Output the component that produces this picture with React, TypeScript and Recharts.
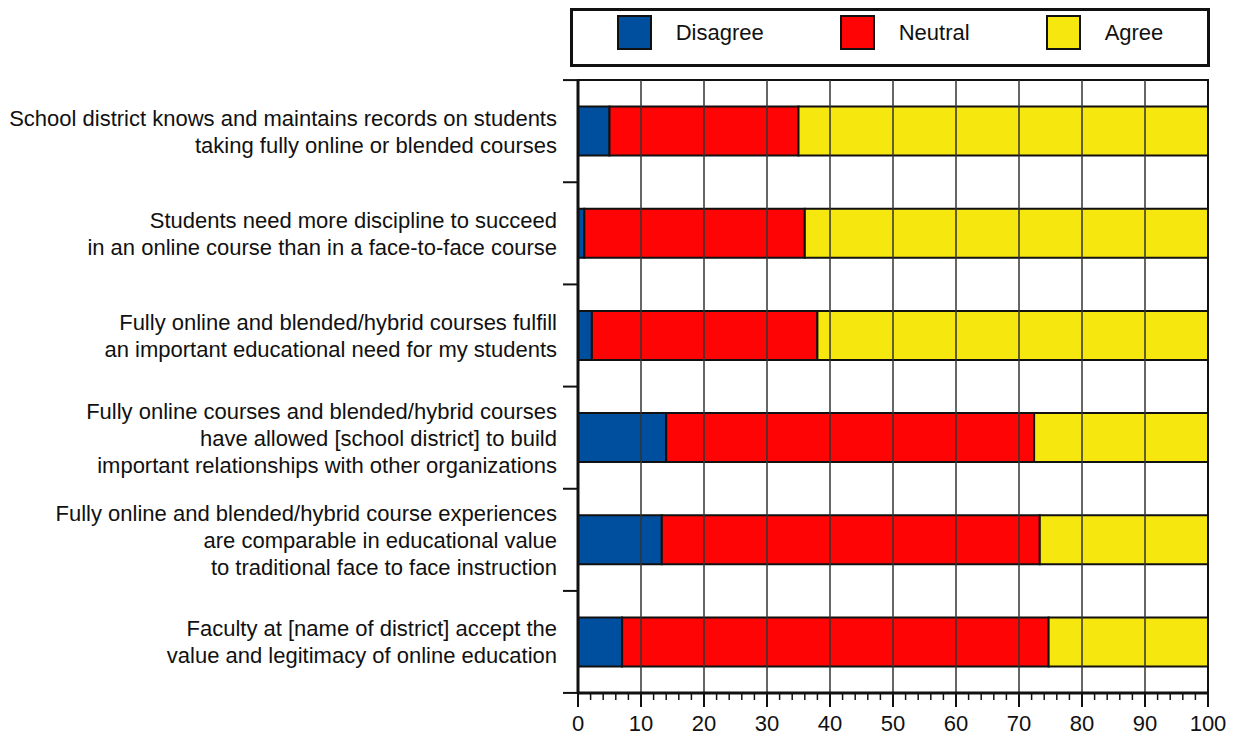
import { Bar, BarChart, ReferenceArea, ReferenceLine, XAxis, YAxis } from "recharts"

const statements = [
  "School district knows and maintains records on students\ntaking fully online or blended courses",
  "Students need more discipline to succeed\nin an online course than in a face-to-face course",
  "Fully online and blended/hybrid courses fulfill\nan important educational need for my students",
  "Fully online courses and blended/hybrid courses\nhave allowed [school district] to build\nimportant relationships with other organizations",
  "Fully online and blended/hybrid course experiences\nare comparable in educational value\nto traditional face to face instruction",
  "Faculty at [name of district] accept the\nvalue and legitimacy of online education",
]

const disagree = [5, 1, 2.2, 14, 13.3, 7]
const neutral = [30, 35, 35.8, 58.4, 60, 67.7]
const agree = [65, 64, 62, 27.6, 26.7, 25.3]

const gridTicks = [10, 20, 30, 40, 50, 60, 70, 80, 90]
const allTicks = [
  0, 2, 4, 6, 8, 10, 12, 14, 16, 18, 20, 22, 24, 26, 28, 30, 32, 34, 36, 38, 40, 42, 44, 46, 48, 50,
  52, 54, 56, 58, 60, 62, 64, 66, 68, 70, 72, 74, 76, 78, 80, 82, 84, 86, 88, 90, 92, 94, 96, 98, 100,
]

const series = [
  { key: "disagree", name: "Disagree", color: "#004f9f" },
  { key: "neutral", name: "Neutral", color: "#fe0404" },
  { key: "agree", name: "Agree", color: "#f6e70f" },
]

const data = statements.map((label, i) => ({
  label,
  disagree: disagree[i],
  neutral: neutral[i],
  agree: agree[i],
}))

const FONT = "'Liberation Sans', Arial, sans-serif"
const HALF_ROW = 51

const StatementTick = (props: any) => {
  const { x, y, payload, index } = props
  const lines = String(payload.value).split("\n")
  const lineH = 27
  const start = y - ((lines.length - 1) * lineH) / 2
  return (
    <g>
      <line x1={x - 15} x2={x} y1={y - HALF_ROW} y2={y - HALF_ROW} stroke="#111" strokeWidth={2} />
      {index === statements.length - 1 && (
        <line x1={x - 15} x2={x} y1={y + HALF_ROW} y2={y + HALF_ROW} stroke="#111" strokeWidth={2} />
      )}
      <text x={x - 21} y={start} textAnchor="end" dominantBaseline="central" fontSize={22} fontFamily={FONT} fill="#111">
        {lines.map((l, i) => (
          <tspan key={i} x={x - 21} dy={i === 0 ? 0 : lineH}>
            {l}
          </tspan>
        ))}
      </text>
    </g>
  )
}

const PercentTick = (props: any) => {
  const { x, y, payload } = props
  const major = payload.value % 10 === 0
  return (
    <g>
      <line x1={x} x2={x} y1={y} y2={y + (major ? 14 : 7)} stroke="#111" strokeWidth={major ? 2 : 1.5} />
      {major && (
        <text x={x} y={y + 38} textAnchor="middle" fontSize={22} fontFamily={FONT} fill="#111">
          {payload.value}
        </text>
      )}
    </g>
  )
}

export default function App() {
  return (
    <div style={{ position: "absolute", left: 0, top: 0, width: 1234, height: 738, background: "#fff" }}>
      <div
        style={{
          position: "absolute",
          left: 570,
          top: 8,
          width: 634,
          height: 49,
          border: "3px solid #111",
          display: "flex",
          alignItems: "flex-start",
          justifyContent: "center",
          gap: 76,
          paddingTop: 4,
          boxSizing: "content-box",
          fontFamily: FONT,
          fontSize: 22,
          color: "#111",
        }}
      >
        {series.map((s) => (
          <div key={s.key} style={{ display: "flex", alignItems: "center" }}>
            <div style={{ width: 31, height: 31, background: s.color, border: "2px solid #111", marginRight: 24 }} />
            <span>{s.name}</span>
          </div>
        ))}
      </div>
      <BarChart
        width={1234}
        height={738}
        data={data}
        layout="vertical"
        margin={{ top: 80, right: 26, left: 0, bottom: 0 }}
        barCategoryGap="26%"
      >
        <XAxis
          type="number"
          domain={[0, 100]}
          ticks={allTicks}
          interval={0}
          height={45}
          tickSize={0}
          tickMargin={0}
          tickLine={false}
          tick={<PercentTick />}
          axisLine={{ stroke: "#111", strokeWidth: 3 }}
        />
        <YAxis
          type="category"
          dataKey="label"
          width={578}
          tickSize={0}
          tickMargin={0}
          tickLine={false}
          interval={0}
          tick={<StatementTick />}
          axisLine={{ stroke: "#111", strokeWidth: 3 }}
        />
        {gridTicks.map((v) => (
          <ReferenceLine key={v} x={v} stroke="#333" strokeWidth={1.5} />
        ))}
        <ReferenceArea x1={0} x2={100} fill="none" fillOpacity={0} stroke="#111" strokeWidth={2} />
        {series.map((s) => (
          <Bar
            key={s.key}
            dataKey={s.key}
            name={s.name}
            stackId="a"
            fill={s.color}
            stroke="#111"
            strokeWidth={2}
            isAnimationActive={false}
          />
        ))}
      </BarChart>
    </div>
  )
}
